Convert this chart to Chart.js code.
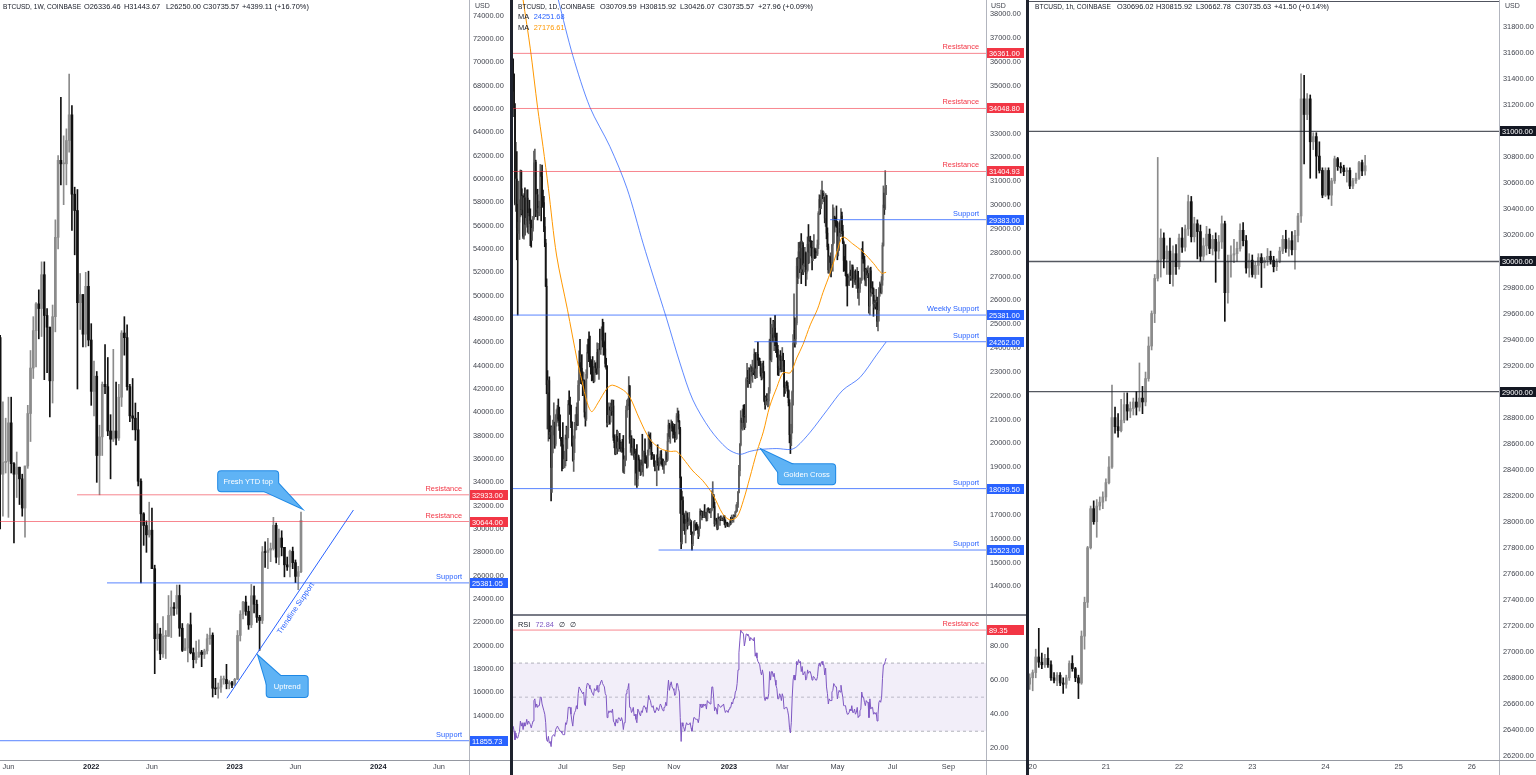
<!DOCTYPE html>
<html lang="en">
<head>
<meta charset="utf-8">
<title>BTCUSD 1W / 1D / 1h</title>
<script src="https://cdn.jsdelivr.net/npm/chart.js@4.4.1/dist/chart.umd.min.js"></script>
<style>
  html, body { margin: 0; padding: 0; background: #fff; }
  body { position: relative; width: 1536px; height: 775px; overflow: hidden; font-family: "Liberation Sans", Arial, sans-serif; color: #131722; }
  canvas { position: absolute; }
  .rule { position: absolute; }
  .txt { position: absolute; white-space: nowrap; font-size: 7.4px; line-height: 10px; color: #131722; }
  .ttl { font-size: 6.6px; }
  .usd { font-size: 7px; color: #42454e; }
</style>
</head>
<body>
<canvas id="wk" width="510" height="775" style="left:0;top:0"></canvas>
<canvas id="dp" width="513" height="615" style="left:513px;top:0"></canvas>
<canvas id="rs" width="513" height="159" style="left:513px;top:616px"></canvas>
<canvas id="hr" width="507" height="775" style="left:1029px;top:0"></canvas>

<div class="rule" style="left:469px;top:0;width:1px;height:775px;background:#b2b5be"></div>
<div class="rule" style="left:0;top:760px;width:510px;height:1px;background:#9598a1"></div>
<div class="rule" style="left:510px;top:0;width:3px;height:775px;background:#1e222d"></div>
<div class="rule" style="left:986px;top:0;width:1px;height:775px;background:#b2b5be"></div>
<div class="rule" style="left:513px;top:614px;width:513px;height:2px;background:#787b86"></div>
<div class="rule" style="left:513px;top:760px;width:513px;height:1px;background:#9598a1"></div>
<div class="rule" style="left:1026px;top:0;width:3px;height:775px;background:#1e222d"></div>
<div class="rule" style="left:1499px;top:0;width:1px;height:775px;background:#b2b5be"></div>
<div class="rule" style="left:1029px;top:760px;width:507px;height:1px;background:#9598a1"></div>
<div class="rule" style="left:1029px;top:1px;width:470px;height:1px;background:#50535e"></div>

<!-- panel headers -->
<div class="txt ttl" style="left:3px;top:2px">BTCUSD, 1W, COINBASE</div>
<div class="txt" style="left:84px;top:2px">O26336.46</div>
<div class="txt" style="left:124px;top:2px">H31443.67</div>
<div class="txt" style="left:166px;top:2px">L26250.00</div>
<div class="txt" style="left:203px;top:2px">C30735.57</div>
<div class="txt" style="left:242px;top:2px">+4399.11 (+16.70%)</div>
<div class="txt usd" style="left:475px;top:1px">USD</div>

<div class="txt ttl" style="left:518px;top:2px">BTCUSD, 1D, COINBASE</div>
<div class="txt" style="left:600px;top:2px">O30709.59</div>
<div class="txt" style="left:640px;top:2px">H30815.92</div>
<div class="txt" style="left:680px;top:2px">L30426.07</div>
<div class="txt" style="left:718px;top:2px">C30735.57</div>
<div class="txt" style="left:758px;top:2px">+27.96 (+0.09%)</div>
<div class="txt" style="left:518px;top:12px">MA <span style="color:#2962ff;margin-left:3px">24251.68</span></div>
<div class="txt" style="left:518px;top:23px">MA <span style="color:#ff9800;margin-left:3px">27176.61</span></div>
<div class="txt usd" style="left:991px;top:1px">USD</div>
<div class="txt" style="left:518px;top:620px">RSI <span style="color:#7e57c2;margin-left:3px">72.84</span> <span style="margin-left:3px">∅</span> <span style="margin-left:3px">∅</span></div>

<div class="txt ttl" style="left:1035px;top:2px">BTCUSD, 1h, COINBASE</div>
<div class="txt" style="left:1117px;top:2px">O30696.02</div>
<div class="txt" style="left:1156px;top:2px">H30815.92</div>
<div class="txt" style="left:1196px;top:2px">L30662.78</div>
<div class="txt" style="left:1235px;top:2px">C30735.63</div>
<div class="txt" style="left:1274px;top:2px">+41.50 (+0.14%)</div>
<div class="txt usd" style="left:1505px;top:1px">USD</div>

<script>
// ---------------- weekly panel (1W) : day numbers counted from 1 Jan 2023 ----------------
const weeklyFirstDay = -601;       // Mon 10 May 2021
const weeklyFirstOpen = 58250;
const weeklyClose = [
  46400,34700,35700,35800,39100,35600,34700,35300,34300,31800,35400,39900,43800,47000,49300,48900,51800,48300,47300,42700,48200,55000,61600,61300,61300,63300,65500,58700,57300,49400,50100,46700,50800,46200,
  41800,43100,36300,37900,42400,42200,38400,37700,38400,37800,41300,46800,46400,42200,39700,39500,38500,34100,31300,30300,29500,29900,26600,20600,21000,19300,20800,20800,22600,23300,23200,24300,21500,19600,19800,21800,19400,18800,19050,19450,19250,19550,20600,20900,16350,16300,16450,17100,17100,16740,16830,16620,
  17120,20880,22700,23740,22940,21780,24280,23550,22430,22160,28040,27990,28200,28330,30320,27590,29230,28430,26930,26750,28080,27120,25940,26340,30736];
const weeklyHigh = [
  59600,46600,40900,39500,41300,41300,35700,36600,35300,34700,34500,40600,45300,48200,49400,50500,52900,52900,48900,47300,49200,56500,62000,67000,63700,64300,69000,66300,59300,59100,51900,50100,52000,52100,
  47600,44400,43500,38900,42600,45800,44700,39800,45400,42600,42400,47000,48200,47500,42400,42900,40800,40000,34300,31400,30700,32300,31800,26900,21900,21500,22500,21300,24300,24700,23700,25200,25200,21900,20600,21900,22800,19800,20400,20500,19600,19700,21000,21500,21100,17200,16800,17400,17400,18400,17000,16950,
  17200,21300,23000,23800,24250,23400,25250,25100,23900,22600,28500,28900,29200,28800,31000,30500,30000,29850,28430,27600,28200,28450,27350,26800,31444];
const weeklyLow = [
  43800,30000,31100,34800,31000,34800,28800,32700,32100,31100,29300,35200,37500,42900,43900,46300,46500,42800,43400,39600,40800,46900,54000,59500,57800,59500,62300,55600,53500,42000,47100,45600,45600,45700,
  40600,39700,34000,32933,36300,41600,38000,34300,37500,37200,37600,40500,44900,41900,39200,38500,37600,33700,25381,28600,28000,29300,26600,17600,19600,18800,19000,18900,20800,20700,22600,22700,20800,19500,19600,18600,19300,18100,18500,19000,18200,18900,19300,20100,15600,15800,15500,16000,16700,16300,16300,16400,
  16600,17100,20400,22300,22600,21400,21550,22800,22000,19600,21900,26700,26600,27200,28200,27100,26950,27700,25900,26450,25900,26600,25400,24800,26250];
const weeklyTickDays = [-573, -363, -209, 1, 155, 365, 519];
const weeklyTickText = ['Jun', '2022', 'Jun', '2023', 'Jun', '2024', 'Jun'];
const weeklyLevels = [32933, 30644, 25381.05, 11855.73];
const weeklyLevelNames = ['Resistance', 'Resistance', 'Support', 'Support'];
const weeklyLevelFrom = [-399, null, -323, null];
const trendDays = [-19, 302];
const trendPrices = [15490, 31630];

// ---------------- daily panel (1D) : prices in $10 units, first bar 7 May 2022 ----------------
const dailyFirstDay = -239;
const dailyFirstOpen = 3599;
const dailyClose = [
  3547,3406,3008,3109,2903,2893,2928,2984,3143,2981,3037,2869,3030,2919,2944,3029,2911,2965,2954,2921,2862,2902,2947,3177,3180,
  2980,3043,2970,2985,2991,3137,3120,3020,3010,2909,2840,2659,2246,2214,2263,2037,2046,1899,2056,2056,2071,1997,2110,2123,2148,2104,2073,2025,2010,1994,
  1927,1930,1931,2023,2018,2055,2163,2161,2158,2089,1994,1932,2021,2059,2082,2122,2078,2243,2339,2320,2315,2268,2246,2260,2131,2103,2289,2381,2378,2364,2331,
  2327,2298,2283,2262,2331,2318,2317,2382,2317,2396,2394,2441,2444,2432,2410,2396,2335,2321,2088,2117,2152,2140,2152,2137,2157,2025,2003,1956,2029,1980,2005,
  2013,1995,1984,1999,1979,1883,1931,1932,2138,2165,2183,2240,2018,2023,1969,1980,2011,1942,1955,1888,1851,1940,1930,1891,1882,1923,1909,1943,1960,1943,
  1930,1905,1963,2034,2016,1996,1953,1942,1946,1913,1905,1916,1938,1918,1906,1926,1955,1933,1911,1905,1917,1920,1957,1933,2008,2077,2029,2060,2081,2063,2050,
  2047,2016,2021,2115,2121,2092,2060,1855,1587,1760,1701,1681,1634,1661,1690,1665,1668,1669,1670,1628,1580,1619,1660,1660,1652,1645,1644,1622,1645,1715,
  1698,1710,1691,1711,1697,1709,1684,1723,1713,1713,1710,1721,1780,1780,1735,1663,1678,1674,1644,1690,1683,1683,1678,1684,1683,1692,1670,1655,1663,1660,1654,
  1662,1668,1667,1685,1683,1695,1694,1712,1718,1744,1794,1885,1993,2096,2088,2118,2113,2068,2107,2267,2278,2270,2292,2263,2306,2301,2308,2303,2374,2283,2313,
  2373,2349,2343,2333,2294,2276,2324,2296,2180,2162,2186,2178,2178,2220,2433,2352,2457,2463,2428,2484,2445,2418,2394,2318,2315,2355,2349,2313,
  2365,2347,2236,2235,2243,2241,2220,2170,2036,2019,2063,2216,2420,2475,2438,2505,2743,2697,2804,2777,2818,2731,2833,2749,2749,2799,2714,2727,2835,2803,2847,
  2846,2820,2779,2817,2817,2804,2792,2795,2833,2965,3023,2989,3039,3049,3032,3032,2945,3039,2882,2825,2728,2782,2759,2752,2831,2842,2948,2934,2925,2923,
  2807,2867,2903,2885,2954,2890,2843,2767,2763,2762,2699,2680,2678,2693,2717,2703,2740,2683,2689,2712,2675,2685,2722,2633,2648,2672,2687,2808,2775,2770,2722,
  2682,2725,2707,2712,2576,2724,2634,2650,2648,2585,2594,2590,2592,2512,2558,2634,2651,2634,2685,2831,3000,2989,3069,3074];
const dailyHigh = [
  3613,3550,3425,3263,3224,3003,3100,3022,3147,3144,3068,3042,3048,3072,2964,3063,3064,2984,3020,2984,2937,2918,2952,3226,3235,
  3188,3062,3066,2995,3016,3170,3139,3167,3062,3036,2948,2856,2690,2305,2266,2279,2116,2073,2068,2098,2170,2089,2120,2141,2159,2186,2152,2120,2024,2014,
  2087,1943,1967,2035,2072,2067,2180,2220,2194,2160,2090,2002,2031,2088,2120,2152,2170,2263,2388,2436,2329,2372,2300,2297,2266,2128,2309,2414,2437,2468,2450,
  2352,2347,2364,2322,2347,2336,2340,2422,2394,2420,2479,2446,2489,2521,2508,2426,2463,2357,2326,2137,2170,2152,2169,2182,2182,2181,2036,2013,2037,2056,2049,
  2020,2042,2004,2006,2017,2033,1947,1946,2156,2181,2187,2280,2243,2054,2032,1987,2020,2017,1966,1976,1995,1953,1949,1930,1919,1930,2038,1968,1966,2019,
  1949,1941,1972,2048,2036,2044,2004,1962,1952,1953,1926,1922,1952,1994,1923,1943,1968,1970,1935,1934,1924,1925,1970,1962,2041,2098,2084,2075,2098,2091,2083,
  2070,2080,2039,2125,2148,2136,2096,2067,1859,1800,1775,1707,1697,1716,1713,1708,1684,1710,1682,1676,1629,1625,1672,1677,1663,1668,1659,1650,1653,1725,
  1718,1711,1715,1716,1743,1711,1711,1727,1730,1723,1726,1724,1801,1839,1786,1753,1680,1686,1683,1705,1690,1687,1696,1686,1686,1697,1697,1679,1667,1669,1665,
  1664,1676,1690,1699,1688,1701,1698,1714,1742,1752,1799,1908,1999,2137,2106,2144,2160,2163,2118,2275,2336,2306,2318,2316,2330,2322,2349,2317,2396,2381,2326,
  2382,2425,2359,2357,2344,2316,2336,2345,2301,2199,2192,2209,2196,2234,2437,2526,2499,2484,2516,2511,2537,2449,2462,2411,2324,2371,2389,2366,
  2402,2378,2348,2242,2257,2262,2255,2224,2183,2031,2080,2220,2456,2627,2526,2523,2777,2780,2843,2843,2846,2880,2849,2842,2782,2822,2803,2748,2866,2918,2866,
  2869,2850,2848,2844,2876,2819,2811,2817,2853,2972,3043,3041,3062,3100,3059,3055,3032,3048,3041,2904,2836,2787,2782,2799,2835,3001,2988,2953,2945,2996,
  2931,2887,2926,2934,2985,2970,2915,2849,2784,2834,2766,2710,2703,2711,2765,2727,2749,2748,2713,2722,2728,2705,2738,2722,2659,2694,2692,2818,2846,2797,2785,
  2734,2730,2736,2745,2713,2735,2739,2679,2678,2652,2621,2601,2646,2614,2576,2653,2677,2669,2700,2841,3080,3050,3144,3082];
const dailyLow = [
  3478,3370,3000,2973,2770,2538,2881,2855,2950,2958,2964,2860,2856,2873,2906,2934,2885,2879,2936,2829,2823,2851,2890,2939,3121,
  2951,2960,2937,2954,2955,2990,2933,2990,2994,2888,2825,2658,2208,2060,2009,2019,2026,1758,1794,1960,2035,1979,1989,2072,2088,2096,2054,2019,1988,1884,
  1894,1900,1897,1905,1927,1978,2023,2121,2135,2066,1988,1925,1882,1961,2055,2057,2074,2075,2180,2300,2250,2248,2200,2241,2110,2072,2096,2273,2343,2355,2321,
  2290,2262,2265,2254,2258,2297,2289,2315,2290,2268,2387,2373,2438,2404,2370,2371,2320,2311,2069,2078,2109,2080,2089,2117,2134,2012,1981,1952,1956,1956,1981,
  1966,1977,1966,1962,1963,1877,1873,1905,1928,2109,2141,2157,2000,1962,1951,1950,1976,1932,1824,1875,1815,1822,1883,1883,1865,1869,1880,1862,1917,1918,
  1916,1896,1899,1950,1978,1986,1932,1935,1932,1903,1884,1897,1822,1908,1887,1905,1915,1912,1904,1890,1874,1912,1909,1923,1927,2006,2020,2000,2054,2051,2022,
  2036,2005,2015,2018,2108,2089,2039,1706,1558,1578,1633,1665,1618,1582,1652,1640,1654,1658,1656,1617,1552,1571,1614,1646,1634,1638,1637,1600,1610,1643,
  1686,1679,1688,1690,1689,1690,1674,1675,1711,1709,1707,1688,1716,1765,1729,1652,1659,1664,1637,1640,1675,1655,1675,1676,1675,1679,1659,1647,1655,1652,1650,
  1649,1655,1660,1666,1675,1669,1691,1691,1710,1714,1731,1792,1863,1989,2060,2055,2088,2058,2066,2088,2260,2234,2263,2250,2233,2282,2256,2288,2297,2272,2274,
  2275,2337,2326,2327,2282,2266,2270,2276,2174,2143,2160,2163,2153,2155,2210,2348,2342,2443,2425,2389,2410,2380,2361,2286,2284,2298,2310,2300,
  2301,2323,2197,2209,2219,2232,2192,2157,2002,1957,1990,2043,2160,2406,2403,2416,2497,2670,2691,2716,2734,2670,2719,2708,2719,2741,2661,2688,2722,2754,2757,
  2824,2786,2728,2766,2803,2775,2778,2788,2788,2817,2959,2962,2985,3004,3026,3014,2925,2910,2858,2812,2714,2713,2736,2698,2723,2722,2838,2886,2911,2906,
  2770,2786,2809,2868,2868,2881,2838,2721,2724,2703,2660,2576,2664,2661,2683,2685,2686,2654,2667,2680,2666,2650,2680,2608,2580,2633,2672,2683,2756,2756,2688,
  2662,2660,2695,2697,2546,2539,2617,2636,2627,2533,2570,2563,2574,2489,2472,2513,2617,2630,2627,2663,2827,2960,2981,3043];
const rsiValues = [
  33,30,25,29,26,26,28,30,36,33,35,31,35,33,34,37,34,36,35,34,32,34,36,48,49,
  44,46,44,45,45,50,50,46,46,42,40,35,25,24,27,23,24,21,27,27,28,27,31,32,33,32,31,30,30,29,
  28,28,28,35,34,37,44,44,44,40,36,33,39,41,42,45,43,52,56,55,55,53,52,53,46,45,55,58,58,57,55,
  55,53,52,51,55,54,54,57,53,57,57,59,60,58,57,56,52,51,38,40,42,41,42,41,43,36,35,33,37,35,37,
  38,37,36,38,36,31,35,35,52,54,55,58,44,44,41,42,44,39,40,37,35,43,42,40,39,42,41,44,45,44,
  43,41,46,51,49,48,45,44,45,42,41,42,44,43,42,44,46,45,43,42,44,44,47,45,54,60,54,57,59,56,55,
  54,51,52,58,58,55,53,38,24,35,33,32,30,33,35,34,34,34,35,32,30,34,38,38,37,37,37,35,38,46,
  44,46,44,46,45,46,43,48,47,47,46,48,56,56,50,42,44,43,40,46,45,45,44,45,45,46,43,41,42,42,41,
  43,44,44,47,46,49,49,53,54,58,66,76,83,89.3,88,88,87,80,83,87,87,86,86,83,85,84,84,83,85,74,76,
  73,71,70,69,65,63,66,63,50,48,50,49,49,52,65,60,65,65,62,64,60,57,55,49,49,52,51,48,
  52,50,43,43,44,44,42,39,32,29,35,50,60,63,60,63,71,69,72,70,71,65,68,63,63,65,60,61,66,64,65,
  65,63,60,62,62,61,60,60,62,68,70,68,70,71,69,69,63,67,56,52,46,49,48,48,53,54,58,57,56,56,
  49,52,54,53,57,53,50,45,45,45,42,40,40,41,43,42,45,41,41,43,40,41,44,38,39,42,43,53,50,50,47,
  45,48,47,47,38,49,43,44,44,40,41,40,41,36,40,47,48,47,50,61,69,69,71,72.84];
const ma50Days = [-228,-220,-212,-206,-200,-191,-179,-168,-163,-157,-152,-145,-135,-129,-117,-110,-99,-88,-76,-65,-58,-51,-40,-29,-18,-7,1,9,16,23,31,38,45,53,60,68,75,82,90,98,104,112,120,126,137,148,160,169,174];
const ma50Values = [38600,36550,34100,32460,30700,27900,25630,23460,22640,21700,21330,21700,22310,22440,22230,21950,21010,20190,19780,19660,19660,19370,18840,18430,17860,17040,16790,16920,17610,18550,19660,20480,21540,22350,22960,22960,23580,24150,24970,25630,26320,27140,28080,28650,28370,28040,27550,27140,27177];
const ma200Days = [-189,-173,-154,-132,-113,-95,-84,-69,-54,-40,-21,-2,12,23,34,53,68,75,90,109,126,145,164,174];
const ma200Values = [38600,36270,34100,32460,30700,28370,27020,25220,23330,21820,20590,19780,19540,19660,19740,19780,19740,19860,20470,21410,22230,22760,23740,24252];
const dailyTickDays = [-184, -122, -61, 0, 59, 120, 181, 243];
const dailyTickText = ['Jul', 'Sep', 'Nov', '2023', 'Mar', 'May', 'Jul', 'Sep'];
const dailyLevels = [36361, 34048.8, 31404.93, 29383, 25381, 24262, 18099.5, 15523];
const dailyLevelNames = ['Resistance', 'Resistance', 'Resistance', 'Support', 'Weekly Support', 'Support', 'Support', 'Support'];
const dailyLevelFrom = [null, null, null, 112, null, 28, null, -78];
const rsiLevels = [89.35];
const rsiLevelNames = ['Resistance'];
const rsiBands = [70, 50, 30];

// ---------------- hourly panel (1h) : hours from 20 Jun 2023 00:00 ----------------
const hourlyFirstHour = -1;
const hourlyFirstOpen = 26750;
const hourlyClose = [
  26800,26840,26960,26920,26900,26950,26900,26800,26780,26820,26760,26750,26800,26910,26870,26800,26760,27120,27380,27800,28100,28000,28120,28150,28190,
  28300,28420,28800,28730,28700,28780,28900,28850,28870,28920,28880,28950,28920,29100,29350,29600,29870,30010,30180,30020,30080,29900,30060,29960,
  30180,30110,30250,30460,30190,30290,30230,30040,30120,30210,30100,30170,30080,30150,30290,29760,30000,30050,30060,30100,30240,30160,29950,30010,
  29900,29970,30030,29990,30010,30040,30010,29960,30000,30080,30170,30100,30160,30090,30200,30350,31250,31130,31250,30920,30960,30810,30700,30510,
  30700,30510,30620,30790,30730,30720,30690,30700,30580,30620,30640,30760,30696,30736];
const hourlyHigh = [
  26830,26860,27020,27180,26990,26980,27030,26930,26840,26840,26840,26800,26820,26930,26970,26880,26820,27160,27420,27810,28120,28160,28170,28190,28230,
  28330,28500,29050,28880,28830,28940,28990,28990,28920,28950,29000,29220,29040,29150,29420,29620,29900,30800,30250,30220,30120,30180,30120,30130,
  30210,30260,30280,30510,30500,30340,30320,30280,30180,30270,30250,30200,30220,30200,30350,30310,30050,30120,30170,30150,30290,30300,30200,30060,
  30050,30000,30060,30060,30030,30100,30080,30040,30020,30110,30200,30240,30180,30230,30240,30370,31443,31430,31290,31280,30990,30990,30920,30720,
  30720,30720,30640,30810,30800,30760,30740,30720,30720,30640,30680,30770,30780,30816];
const hourlyLow = [
  26710,26700,26800,26880,26870,26880,26880,26780,26760,26740,26740,26680,26720,26780,26850,26770,26640,26750,27020,27340,27790,27980,27880,28090,28100,
  28160,28290,28410,28680,28650,28690,28760,28780,28800,28820,28820,28850,28830,28890,29080,29320,29530,29850,29880,29950,29900,29830,29810,29900,
  29940,30070,30080,30200,30150,30150,30020,30000,30010,30050,30060,30050,29840,30020,30100,29540,29680,29880,29990,30000,30080,30120,29910,29880,
  29880,29870,29900,29800,29950,29970,29980,29920,29930,29990,30060,30070,30040,30050,29940,30150,30300,30750,31090,30640,30860,30640,30680,30490,
  30500,30480,30430,30600,30700,30680,30660,30610,30560,30560,30600,30630,30660,30663];
const hourlyTickHours = [0, 24, 48, 72, 96, 120, 144];
const hourlyTickText = ['20', '21', '22', '23', '24', '25', '26'];
const hourlyLevels = [31000, 30000, 29000];

// ---------------- annotations ----------------
const weeklyCallouts = [
  { text: 'Fresh YTD top', day: 35, price: 34100, w: 60, h: 20, tipDay: 169, tipPrice: 31800 },
  { text: 'Uptrend', day: 134, price: 16500, w: 41, h: 21, tipDay: 61, tipPrice: 19100 }
];
const dailyCallouts = [
  { text: 'Golden Cross', day: 86, price: 18707, w: 57, h: 20, tipDay: 36.5, tipPrice: 19730 }
];
const trendLabel = { text: 'Trendline Support', day: 156, price: 23205 };

// ---------------- styling ----------------
const FONT = '"Liberation Sans", Arial, sans-serif';
const RED = '#f23645', BLUE = '#2962ff', INK = '#131722';
Chart.defaults.font.family = FONT;
Chart.defaults.font.size = 7.4;
Chart.defaults.color = '#42454e';
Chart.defaults.animation = false;
Chart.defaults.events = [];
Chart.defaults.plugins.legend.display = false;
Chart.defaults.plugins.tooltip.enabled = false;

function tagColor(name) {
  if (!name) return INK;
  return name === 'Resistance' ? RED : BLUE;
}
function lineColor(name) {
  if (!name) return 'rgba(19,23,34,0.72)';
  return name === 'Resistance' ? 'rgba(242,54,69,0.6)' : 'rgba(41,98,255,0.78)';
}

function candles(xs, firstOpen, close, high, low, unit, bodyW, upCol, downCol) {
  const wicks = [], bodies = [], colors = [];
  let open = firstOpen;
  close.forEach((c, i) => {
    const o = open * unit, cc = c * unit;
    const hi = Math.max(high[i] * unit, o, cc);
    const lo = Math.min(low[i] * unit, o, cc);
    wicks.push({ x: xs[i], y: [lo, hi] });
    bodies.push({ x: xs[i], y: [o, cc] });
    colors.push(cc >= o ? upCol : downCol);
    open = c;
  });
  return [
    { type: 'bar', data: wicks, backgroundColor: colors, barThickness: 1, grouped: false, order: 3 },
    { type: 'bar', data: bodies, backgroundColor: colors, barThickness: bodyW, minBarLength: 1, grouped: false, order: 2 }
  ];
}

function levelLines(values, names, from, xMin, xMax, width) {
  return values.map((v, i) => ({
    type: 'line',
    data: [{ x: from[i] == null ? xMin : from[i], y: v }, { x: xMax, y: v }],
    borderColor: lineColor(names[i]),
    borderWidth: width,
    pointRadius: 0,
    order: 0
  }));
}

function yAxis(width, min, max, step, hideAbove) {
  return {
    type: 'linear', position: 'right', min, max,
    grid: { display: false, drawTicks: false }, border: { display: false },
    afterBuildTicks: (s) => {
      const t = [];
      for (let v = Math.ceil(s.min / step) * step; v <= s.max; v += step) t.push({ value: v });
      s.ticks = t;
    },
    ticks: {
      padding: 4, autoSkip: false, color: '#42454e', font: { size: 7.4 },
      callback: (v) => (hideAbove != null && v > hideAbove) ? null : v.toFixed(2)
    },
    afterFit: (s) => { s.width = width; s.paddingTop = 0; s.paddingBottom = 0; }
  };
}

function xAxis(min, max, tickVals, tickText, show) {
  const isYear = (i) => /^\d{4}$/.test(tickText[i] || '');
  return {
    type: 'linear', min, max, offset: false, display: show,
    grid: { display: false, drawTicks: false, offset: false }, border: { display: false },
    afterBuildTicks: (s) => { s.ticks = tickVals.map((v) => ({ value: v })); },
    ticks: {
      autoSkip: false, maxRotation: 0, padding: 3,
      callback: (v, i) => tickText[i],
      font: (c) => ({ size: 7.4, weight: isYear(c.index) ? 'bold' : 'normal' }),
      color: (c) => isYear(c.index) ? '#131722' : '#42454e'
    },
    afterFit: (s) => { s.height = 15; s.paddingLeft = 0; s.paddingRight = 0; }
  };
}

function roundRectPath(ctx, x, y, w, h, r) {
  ctx.beginPath();
  ctx.moveTo(x + r, y);
  ctx.lineTo(x + w - r, y); ctx.quadraticCurveTo(x + w, y, x + w, y + r);
  ctx.lineTo(x + w, y + h - r); ctx.quadraticCurveTo(x + w, y + h, x + w - r, y + h);
  ctx.lineTo(x + r, y + h); ctx.quadraticCurveTo(x, y + h, x, y + h - r);
  ctx.lineTo(x, y + r); ctx.quadraticCurveTo(x, y, x + r, y);
  ctx.closePath();
}

function drawCallout(ctx, xs, ys, c) {
  const cx = xs.getPixelForValue(c.day), cy = ys.getPixelForValue(c.price);
  const tx = xs.getPixelForValue(c.tipDay), ty = ys.getPixelForValue(c.tipPrice);
  const dx = Math.sign(tx - cx), dy = Math.sign(ty - cy);
  const kx = cx + dx * c.w / 2, ky = cy + dy * c.h / 2;
  const tail = () => {
    ctx.beginPath();
    ctx.moveTo(kx - dx * 14, ky); ctx.lineTo(tx, ty); ctx.lineTo(kx, ky - dy * 8);
    ctx.closePath();
  };
  ctx.strokeStyle = '#1e88e5'; ctx.lineWidth = 2; ctx.fillStyle = '#5fb3f5';
  tail(); ctx.stroke();
  roundRectPath(ctx, cx - c.w / 2, cy - c.h / 2, c.w, c.h, 3); ctx.stroke();
  tail(); ctx.fill();
  roundRectPath(ctx, cx - c.w / 2, cy - c.h / 2, c.w, c.h, 3); ctx.fill();
  ctx.fillStyle = '#ffffff';
  ctx.font = '7.6px ' + FONT;
  ctx.textAlign = 'center'; ctx.textBaseline = 'middle';
  ctx.fillText(c.text, cx, cy + 0.5);
}

function deco(key, levels, names, tagW, extra) {
  return {
    id: 'deco' + key,
    afterDraw(chart) {
      const { ctx, chartArea: ca, scales: { x, y } } = chart;
      ctx.save();
      levels.forEach((v, i) => {
        const py = y.getPixelForValue(v);
        if (names[i]) {
          ctx.font = '7.4px ' + FONT;
          ctx.fillStyle = tagColor(names[i]);
          ctx.textAlign = 'right'; ctx.textBaseline = 'alphabetic';
          ctx.fillText(names[i], ca.right - 7, py - 4);
        }
        ctx.fillStyle = tagColor(names[i]);
        ctx.fillRect(ca.right + 1, Math.round(py) - 5, tagW, 10);
        ctx.fillStyle = '#ffffff';
        ctx.font = '7.4px ' + FONT;
        ctx.textAlign = 'left'; ctx.textBaseline = 'middle';
        ctx.fillText(v.toFixed(2), ca.right + 3, Math.round(py) + 0.5);
      });
      if (extra) extra(ctx, x, y);
      ctx.restore();
    }
  };
}

const baseOptions = { responsive: false, animation: false, layout: { padding: 0, autoPadding: false } };

// ---------------- weekly chart ----------------
const W_MIN = -594.4, W_MAX = 595.1;
const weeklyDays = weeklyClose.map((_, i) => weeklyFirstDay + 7 * i);
new Chart(document.getElementById('wk'), {
  type: 'bar',
  data: {
    datasets: [
      ...levelLines(weeklyLevels, weeklyLevelNames, weeklyLevelFrom, W_MIN, W_MAX, 1),
      { type: 'line', data: trendDays.map((d, i) => ({ x: d, y: trendPrices[i] })), borderColor: BLUE, borderWidth: 1, pointRadius: 0, order: 0 },
      ...candles(weeklyDays, weeklyFirstOpen, weeklyClose, weeklyHigh, weeklyLow, 1, 2, '#8b8b8b', '#111111')
    ]
  },
  options: {
    ...baseOptions,
    scales: { x: xAxis(W_MIN, W_MAX, weeklyTickDays, weeklyTickText, true), y: yAxis(41, 10202, 75343, 2000) }
  },
  plugins: [deco('W', weeklyLevels, weeklyLevelNames, 38, (ctx, x, y) => {
    weeklyCallouts.forEach((c) => drawCallout(ctx, x, y, c));
    const p1x = x.getPixelForValue(trendDays[0]), p1y = y.getPixelForValue(trendPrices[0]);
    const p2x = x.getPixelForValue(trendDays[1]), p2y = y.getPixelForValue(trendPrices[1]);
    ctx.translate(x.getPixelForValue(trendLabel.day), y.getPixelForValue(trendLabel.price));
    ctx.rotate(Math.atan2(p2y - p1y, p2x - p1x));
    ctx.fillStyle = BLUE; ctx.font = '7.6px ' + FONT;
    ctx.textAlign = 'center'; ctx.textBaseline = 'middle';
    ctx.fillText(trendLabel.text, 0, 0);
  })]
});

// ---------------- daily chart ----------------
const D_MIN = -239.2, D_MAX = 284.6;
const dailyDays = dailyClose.map((_, i) => dailyFirstDay + i);
new Chart(document.getElementById('dp'), {
  type: 'bar',
  data: {
    datasets: [
      ...levelLines(dailyLevels, dailyLevelNames, dailyLevelFrom, D_MIN, D_MAX, 1),
      { type: 'line', data: ma200Days.map((d, i) => ({ x: d, y: ma200Values[i] })), borderColor: 'rgba(41,98,255,0.75)', borderWidth: 1, pointRadius: 0, tension: 0.3, order: 1 },
      { type: 'line', data: ma50Days.map((d, i) => ({ x: d, y: ma50Values[i] })), borderColor: '#ff9800', borderWidth: 1, pointRadius: 0, tension: 0.3, order: 1 },
      ...candles(dailyDays, dailyFirstOpen, dailyClose, dailyHigh, dailyLow, 10, 1, '#5f5f5f', '#161616')
    ]
  },
  options: {
    ...baseOptions,
    scales: { x: xAxis(D_MIN, D_MAX, [], [], false), y: yAxis(40, 13426, 38600, 1000) }
  },
  plugins: [deco('D', dailyLevels, dailyLevelNames, 37, (ctx, x, y) => {
    dailyCallouts.forEach((c) => drawCallout(ctx, x, y, c));
  })]
});

// ---------------- RSI chart ----------------
new Chart(document.getElementById('rs'), {
  type: 'line',
  data: {
    datasets: [
      { data: [{ x: D_MIN, y: rsiBands[0] }, { x: D_MAX, y: rsiBands[0] }], borderColor: 'rgba(120,123,134,0.55)', borderDash: [3, 3], borderWidth: 1, pointRadius: 0, order: 3 },
      { data: [{ x: D_MIN, y: rsiBands[2] }, { x: D_MAX, y: rsiBands[2] }], borderColor: 'rgba(120,123,134,0.55)', borderDash: [3, 3], borderWidth: 1, pointRadius: 0, fill: '-1', backgroundColor: 'rgba(126,87,194,0.1)', order: 3 },
      { data: [{ x: D_MIN, y: rsiBands[1] }, { x: D_MAX, y: rsiBands[1] }], borderColor: 'rgba(120,123,134,0.45)', borderDash: [3, 3], borderWidth: 1, pointRadius: 0, order: 3 },
      ...levelLines(rsiLevels, rsiLevelNames, [null], D_MIN, D_MAX, 1),
      { data: rsiValues.map((v, i) => ({ x: dailyDays[i], y: v })), borderColor: '#7e57c2', borderWidth: 1, pointRadius: 0, order: 1 }
    ]
  },
  options: {
    ...baseOptions,
    scales: { x: xAxis(D_MIN, D_MAX, dailyTickDays, dailyTickText, true), y: yAxis(40, 13.14, 97.6, 20) }
  },
  plugins: [deco('R', rsiLevels, rsiLevelNames, 37)]
});

// ---------------- hourly chart ----------------
const H_MIN = -1.21, H_MAX = 152.9;
const hourlyHours = hourlyClose.map((_, i) => hourlyFirstHour + i);
new Chart(document.getElementById('hr'), {
  type: 'bar',
  data: {
    datasets: [
      ...levelLines(hourlyLevels, ['', '', ''], [null, null, null], H_MIN, H_MAX, 1.4),
      ...candles(hourlyHours, hourlyFirstOpen, hourlyClose, hourlyHigh, hourlyLow, 1, 2, '#8b8b8b', '#111111')
    ]
  },
  options: {
    ...baseOptions,
    scales: { x: xAxis(H_MIN, H_MAX, hourlyTickHours, hourlyTickText, true), y: yAxis(37, 26168, 32010, 200, 31900) }
  },
  plugins: [deco('H', hourlyLevels, ['', '', ''], 37)]
});
</script>
</body>
</html>
